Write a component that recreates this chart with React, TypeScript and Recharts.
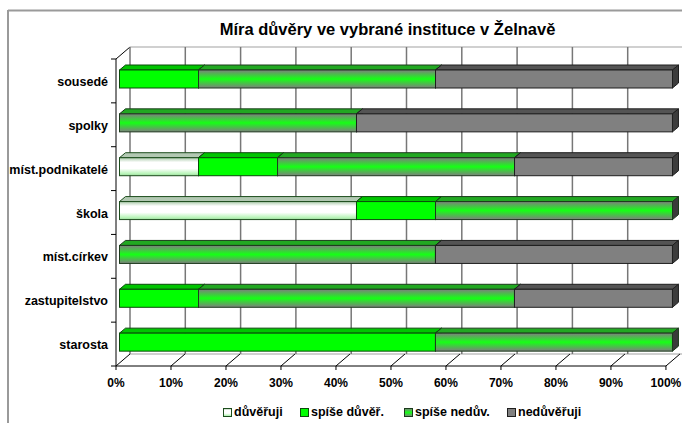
import React from 'react';
import { BarChart, Bar, XAxis, YAxis, CartesianGrid, Legend } from 'recharts';

// categories top to bottom, shares in % (7 respondents -> steps of 1/7)
const categories = ['sousedé', 'spolky', 'míst.podnikatelé', 'škola', 'míst.církev', 'zastupitelstvo', 'starosta'];
const duveruji = [0, 0, 14.29, 42.86, 0, 0, 0];
const spiseDuver = [14.29, 0, 14.29, 14.29, 0, 14.29, 57.14];
const spiseNeduv = [42.86, 42.86, 42.86, 42.86, 57.14, 57.14, 42.86];
const neduveruji = [42.86, 57.14, 28.57, 0, 42.86, 28.57, 0];
const xTicks = [0, 10, 20, 30, 40, 50, 60, 70, 80, 90, 100];

const FONT = '"Liberation Sans", Arial, sans-serif';
const W = 682;
const H = 423;
// plot area (bar front faces)
const PL = 119.5;
const PT = 57;
const PW = 553;
const PH = 307;
// depth of the 3D walls
const DX = 14;
const DY = 12;
// front of walls sits slightly in front of bars
const FX = -3.5;
const FY = 2;

const series = [
  { key: 'důvěřuji', values: duveruji, front: 'url(#gWhite)', top: '#b2c8b2', side: '#7f9a7f', stroke: '#1d4d1d', icon: 'url(#gWhite)' },
  { key: 'spíše důvěř.', values: spiseDuver, front: '#00ff00', top: '#00c400', side: '#009000', stroke: '#0b4a0b', icon: '#00ff00' },
  { key: 'spíše nedův.', values: spiseNeduv, front: 'url(#gGreenGray)', top: '#22a822', side: '#3a3a3a', stroke: '#1c3a1c', icon: 'url(#gGreenGray)' },
  { key: 'nedůvěřuji', values: neduveruji, front: '#808080', top: '#545454', side: '#3c3c3c', stroke: '#1e1e1e', icon: '#808080' },
];

const data = categories.map((name, i) => {
  const row: any = { name };
  series.forEach((s) => { row[s.key] = s.values[i]; });
  return row;
});

const Bar3D = (props: any) => {
  const { x, y, width, height, front, top, side, stroke } = props;
  if (!width || width <= 0.5) return null;
  const dx = 6;
  const dy = 5;
  return (
    <g>
      <polygon
        points={`${x},${y} ${x + dx},${y - dy} ${x + width + dx},${y - dy} ${x + width},${y}`}
        fill={top} stroke={stroke} strokeWidth={1} strokeLinejoin="round"
      />
      <polygon
        points={`${x + width},${y} ${x + width + dx},${y - dy} ${x + width + dx},${y + height - dy} ${x + width},${y + height}`}
        fill={side} stroke={stroke} strokeWidth={1} strokeLinejoin="round"
      />
      <rect x={x} y={y} width={width} height={height} fill={front} stroke={stroke} strokeWidth={1} />
    </g>
  );
};

const CatTick = (props: any) => {
  const { y, payload } = props;
  return (
    <text x={108} y={y + 3} textAnchor="end" dominantBaseline="central"
      style={{ fontFamily: FONT, fontSize: 12.5, fontWeight: 700, fill: '#000' }}>
      {payload.value}
    </text>
  );
};

const PctTick = (props: any) => {
  const { x, payload } = props;
  // front axis is a touch narrower than the bar plane
  const fx = x + FX - (payload.value / 100) * 3;
  const fy = PT + PH + FY;
  return (
    <g>
      <line x1={fx} y1={fy} x2={fx + DX} y2={fy - DY} stroke="#000" strokeWidth={1} />
      <line x1={fx} y1={fy} x2={fx} y2={fy + 4} stroke="#000" strokeWidth={1} />
      <text x={fx} y={383} textAnchor="middle" dominantBaseline="central"
        style={{ fontFamily: FONT, fontSize: 12, fontWeight: 700, fill: '#000' }}>
        {payload.value}%
      </text>
    </g>
  );
};

const LegendContent = () => {
  const widths = [77, 104, 103, 90];
  return (
    <div style={{ display: 'flex', paddingLeft: 223, fontFamily: FONT, fontSize: 12.5, fontWeight: 700, color: '#000', lineHeight: '17px' }}>
      {series.map((s, i) => (
        <div key={s.key} style={{ width: widths[i], display: 'flex', alignItems: 'center' }}>
          <svg width={9} height={9} style={{ marginRight: 2, flex: 'none' }}>
            <rect x={0.5} y={0.5} width={8} height={8} fill={s.icon} stroke={s.stroke} strokeWidth={1} />
          </svg>
          <span style={{ whiteSpace: 'nowrap' }}>{s.key}</span>
        </div>
      ))}
    </div>
  );
};

const Frame = () => {
  const fx0 = PL + FX;
  const fy0 = PT + FY;
  const fy1 = PT + PH + FY;
  const band = PH / categories.length;
  return (
    <svg width={W} height={H} style={{ position: 'absolute', left: 0, top: 0 }}>
      <defs>
        <linearGradient id="gWhite" x1="0" y1="0" x2="0" y2="1">
          <stop offset="0%" stopColor="#a9c9a9" />
          <stop offset="25%" stopColor="#ffffff" />
          <stop offset="60%" stopColor="#ffffff" />
          <stop offset="88%" stopColor="#b9f5b9" />
          <stop offset="100%" stopColor="#9bd69b" />
        </linearGradient>
        <linearGradient id="gGreenGray" x1="0" y1="0" x2="0" y2="1">
          <stop offset="0%" stopColor="#7e7e7e" />
          <stop offset="50%" stopColor="#16ff16" />
          <stop offset="100%" stopColor="#7e7e7e" />
        </linearGradient>
      </defs>
      <rect x={0} y={0} width={W} height={H} fill="#fff" />
      {/* outer chart frame */}
      <line x1={8} y1={10.5} x2={W} y2={10.5} stroke="#9a9a9a" strokeWidth={2} />
      <line x1={8} y1={10} x2={8} y2={H} stroke="#9a9a9a" strokeWidth={2} />
      {/* back wall / floor edges */}
      <line x1={fx0 + DX} y1={fy0 - DY} x2={W} y2={fy0 - DY} stroke="#c0c0c0" strokeWidth={1.5} />
      <line x1={fx0 + DX} y1={fy1 - DY} x2={fx0 + PW + DX} y2={fy1 - DY} stroke="#c0c0c0" strokeWidth={1.5} />
      {/* left axis */}
      <line x1={fx0} y1={fy0} x2={fx0} y2={fy1} stroke="#000" strokeWidth={1} />
      <line x1={fx0} y1={fy0} x2={fx0 + DX} y2={fy0 - DY} stroke="#000" strokeWidth={1} />
      {categories.concat(['']).map((c, i) => (
        <line key={i} x1={fx0 - 5} y1={fy0 + i * band} x2={fx0} y2={fy0 + i * band} stroke="#000" strokeWidth={1} />
      ))}
      {/* front floor edge */}
      <line x1={fx0} y1={fy1} x2={fx0 + PW - 3} y2={fy1} stroke="#000" strokeWidth={1} />
      <text x={387.5} y={28.5} textAnchor="middle" dominantBaseline="central"
        style={{ fontFamily: FONT, fontSize: 16.5, fontWeight: 700, fill: '#000' }}>
        Míra důvěry ve vybrané instituce v Želnavě
      </text>
    </svg>
  );
};

const App = () => {
  return (
    <div style={{ position: 'absolute', left: 0, top: 0, width: W, height: H, background: '#fff' }}>
      <Frame />
      <div style={{ position: 'absolute', left: 0, top: 0 }}>
        <BarChart
          width={W}
          height={H}
          data={data}
          layout="vertical"
          barSize={18}
          margin={{ top: PT, right: W - PL - PW, left: 0, bottom: H - PT - PH - 30 }}
        >
          <CartesianGrid
            horizontal={false}
            y={PT + FY - DY}
            height={PH}
            stroke="#777"
            strokeWidth={1.5}
            verticalCoordinatesGenerator={({ offset }: any) =>
              xTicks.map((t) => offset.left + (offset.width * t) / 100 + FX + DX)
            }
          />
          <XAxis
            type="number"
            domain={[0, 100]}
            ticks={xTicks}
            interval={0}
            height={30}
            axisLine={false}
            tickLine={false}
            tickSize={0}
            tick={<PctTick />}
          />
          <YAxis
            type="category"
            dataKey="name"
            width={PL}
            axisLine={false}
            tickLine={false}
            tick={<CatTick />}
          />
          <Legend
            layout="horizontal"
            verticalAlign="middle"
            align="center"
            wrapperStyle={{ top: 404, left: 0, width: W, height: 18 }}
            content={() => <LegendContent />}
          />
          {series.map((s) => (
            <Bar
              key={s.key}
              dataKey={s.key}
              stackId="a"
              isAnimationActive={false}
              shape={(p: any) => <Bar3D {...p} front={s.front} top={s.top} side={s.side} stroke={s.stroke} />}
            />
          ))}
        </BarChart>
      </div>
    </div>
  );
};

export default App;
